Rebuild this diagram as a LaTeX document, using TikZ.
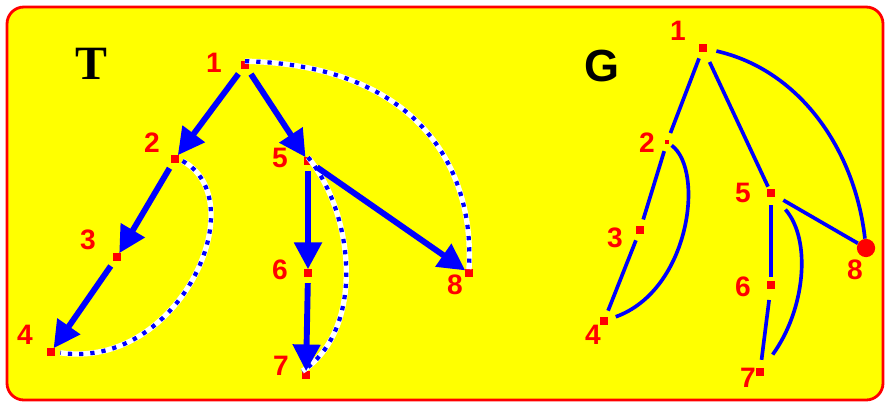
\documentclass[tikz,border=0pt]{standalone}
\usepackage{fontspec}
\setmainfont{Liberation Sans}
\newfontfamily\grazie{Liberation Serif}
\usetikzlibrary{arrows.meta}

\definecolor{giallo}{RGB}{255,255,0}
\definecolor{rosso}{RGB}{255,0,0}
\definecolor{blu}{RGB}{0,0,255}

\begin{document}
\begin{tikzpicture}[x=0.025cm, y=-0.025cm]

        % Stili dei vertici e degli archi
        \tikzset{
          vtx/.style={fill=rosso, inner sep=0pt, minimum size=5pt},
          num/.style={text=rosso, font=\fontsize{20}{24}\selectfont\bfseries},
          albero/.style={draw=blu, line width=4.2pt, -{Triangle[length=19pt,width=19pt]}, shorten <=4.5pt},
          ritorno/.style={draw=white, line width=3.8pt, postaction={draw=blu, line width=3pt, dash pattern=on 3pt off 5pt}},
          arco/.style={draw=blu, line width=2.6pt, shorten <=5pt, shorten >=5pt}
        }

        % Sfondo giallo con bordo rosso
        \useasboundingbox (0,0) rectangle (886,403);
        \draw[rosso, line width=2pt, fill=giallo, rounded corners=12pt] (7,7) rectangle (883,400);

        % Albero T: vertici
        \node[vtx] (t1) at (245,65) {};
        \node[vtx] (t2) at (175,159) {};
        \node[vtx] (t3) at (117,257) {};
        \node[vtx] (t4) at (51,352) {};
        \node[vtx] (t5) at (308,161) {};
        \node[vtx] (t6) at (308,273) {};
        \node[vtx] (t7) at (306,375) {};
        \node[vtx] (t8) at (469,273) {};

        % Albero T: etichette
        \node[font=\grazie\fontsize{34}{40}\selectfont\bfseries] (tT) at (91,64) {T};
        \node[num] (tn1) at (214,63) {1};
        \node[num] (tn2) at (152,143) {2};
        \node[num] (tn3) at (88,240) {3};
        \node[num] (tn4) at (25,335) {4};
        \node[num] (tn5) at (280,158) {5};
        \node[num] (tn6) at (280,270) {6};
        \node[num] (tn7) at (281,366) {7};
        \node[num] (tn8) at (455,285) {8};

        % Archi all'indietro (tratteggiati)
        \draw[ritorno] (t1.north) .. controls (410,65) and (475,160) .. (t8.north);
        \draw[ritorno, shorten <=3pt, shorten >=4pt] (t2.east) .. controls (255,200) and (180,370) .. (t4.east);
        \draw[ritorno] (t5.north) .. controls (355,215) and (365,330) .. (t7.north west);

        % Archi dell'albero
        \draw[albero] (t1) -- (t2);
        \draw[albero] (t2) -- (t3);
        \draw[albero] (t3) -- (t4);
        \draw[albero] (t1) -- (t5);
        \draw[albero] (t5) -- (t6);
        \draw[albero] (t6) -- (t7);
        \draw[albero] (t5) -- (t8);

        % Grafo G: vertici
        \node[vtx] (g1) at (703,48) {};
        \node[vtx, minimum size=3pt] (g2) at (667,142) {};
        \node[vtx] (g3) at (640,230) {};
        \node[vtx] (g4) at (604,321) {};
        \node[vtx] (g5) at (771,193) {};
        \node[vtx] (g6) at (771,285) {};
        \node[vtx] (g7) at (760,372) {};
        \node[vtx, circle, minimum size=13pt] (g8) at (866,248) {};

        % Grafo G: etichette
        \node[font=\fontsize{32}{38}\selectfont\bfseries] (gG) at (602,66) {G};
        \node[num] (gn1) at (678,31) {1};
        \node[num] (gn2) at (647,143) {2};
        \node[num] (gn3) at (615,238) {3};
        \node[num] (gn4) at (593,335) {4};
        \node[num] (gn5) at (743,193) {5};
        \node[num] (gn6) at (743,287) {6};
        \node[num] (gn7) at (748,378) {7};
        \node[num] (gn8) at (855,270) {8};

        % Grafo G: archi
        \draw[arco] (g1) -- (g2);
        \draw[arco] (g2) -- (g3);
        \draw[arco] (g3) -- (g4);
        \draw[arco, shorten <=8pt, shorten >=2pt] (g1) -- (g5);
        \draw[arco, shorten <=6pt, shorten >=3pt] (g5) -- (g6);
        \draw[arco, shorten <=8pt, shorten >=6pt] (g6) -- (g7);
        \draw[arco, shorten <=7pt, shorten >=0pt] (g5) -- (g8);
        \draw[arco, shorten <=7pt, shorten >=0pt] (g1) .. controls (800,70) and (855,150) .. (g8);
        \draw[arco, shorten <=2pt, shorten >=6pt] (g2) .. controls (705,170) and (690,290) .. (g4);
        \draw[arco, shorten <=12pt, shorten >=12pt] (g5) .. controls (812,240) and (805,310) .. (g7);

    \end{tikzpicture}
\end{document}
